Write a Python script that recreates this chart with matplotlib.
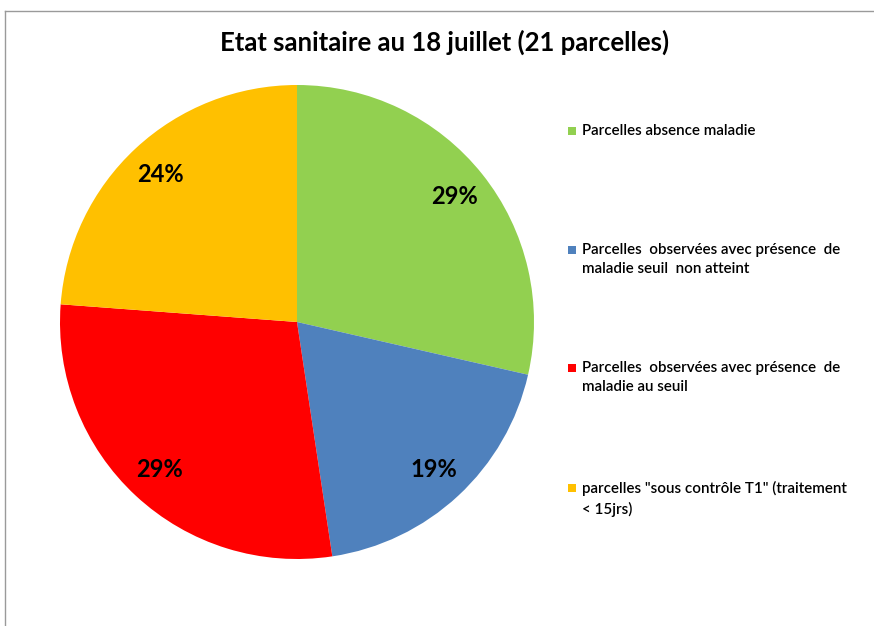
import matplotlib.pyplot as plt
from matplotlib.lines import Line2D
from matplotlib.patches import Rectangle

# Data ##########################################
title = "Etat sanitaire au 18 juillet (21 parcelles)"
categories = [
    "Parcelles absence maladie",
    "Parcelles  observées avec présence  de\nmaladie seuil  non atteint",
    "Parcelles  observées avec présence  de\nmaladie au seuil",
    "parcelles \"sous contrôle T1\" (traitement\n< 15jrs)",
]
counts = [6, 4, 6, 5]
colors = ["#92D050", "#4F81BD", "#FF0000", "#FFC000"]

plt.rcParams["font.family"] = ["Lato", "DejaVu Sans"]

fig = plt.figure(figsize=(8.74, 6.26), dpi=100)
W, H = 874, 626

# frame (only left and top edges visible in the reference)
fig.add_artist(Line2D([5 / W, 5 / W], [0, 1 - 11 / H], transform=fig.transFigure,
                      color="#9a9a9a", lw=1))
fig.add_artist(Line2D([5 / W, 1], [1 - 11 / H, 1 - 11 / H], transform=fig.transFigure,
                      color="#9a9a9a", lw=1))

# Pie ###########################################
cx, cy, r = 297, 322, 237
ax = fig.add_axes([(cx - r) / W, 1 - (cy + r) / H, 2 * r / W, 2 * r / H])
wedges, texts, autotexts = ax.pie(
    counts, colors=colors, startangle=90, counterclock=False,
    autopct=lambda p: f"{p:.0f}%", pctdistance=0.85, radius=1,
    wedgeprops=dict(linewidth=0),
    textprops=dict(fontsize=17, fontweight="bold", color="black"),
)
ax.set_xlim(-1, 1)
ax.set_ylim(-1, 1)
ax.set_aspect("equal")
ax.axis("off")

fig.text(445 / W, 1 - 42 / H, title, ha="center", va="center",
         fontsize=18.5, fontweight="bold")

# Legend ########################################
legend_y = [131, 250, 368, 488]
for label, col, y in zip(categories, colors, legend_y):
    fig.add_artist(Rectangle(((568) / W, 1 - (y + 4) / H), 8 / W, 8 / H,
                             transform=fig.transFigure, color=col, lw=0))
    fig.text(582 / W, 1 - (y - 7) / H, label, ha="left", va="top",
             fontsize=10.9, fontweight="semibold", linespacing=1.45)

fig.savefig("out.png", dpi=100)
